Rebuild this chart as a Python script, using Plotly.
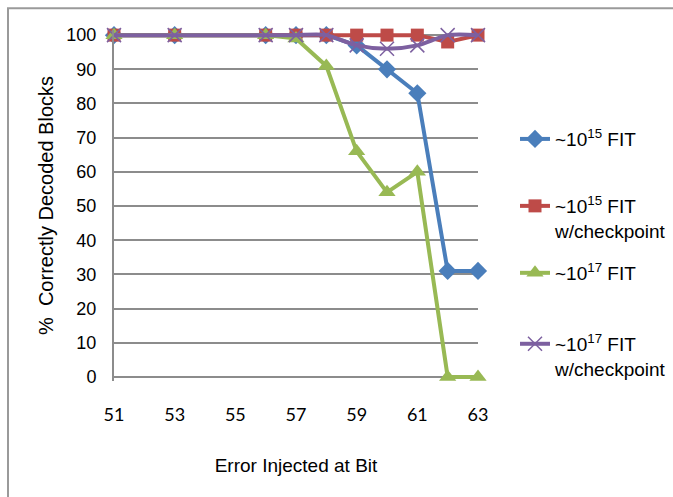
import plotly.graph_objects as go

# ---------------- data ----------------
bits = [51, 53, 56, 57, 58, 59, 60, 61, 62, 63]
fit15 = [100, 100, 100, 100, 100, 97, 90, 83, 31, 31]
fit15_ckpt = [100, 100, 100, 100, 100, 100, 100, 100, 98, 100]
fit17 = [100, 100, 100, 99, 91, 66, 54, 60, 0, 0]
fit17_ckpt = [100, 100, 100, 100, 100, 97, 96, 97, 100, 100]

names = ["~10<sup>15</sup> FIT",
         "~10<sup>15</sup> FIT<br>w/checkpoint",
         "~10<sup>17</sup> FIT",
         "~10<sup>17</sup> FIT<br>w/checkpoint"]

x_ticks = [51, 53, 55, 57, 59, 61, 63]
y_ticks = [0, 10, 20, 30, 40, 50, 60, 70, 80, 90, 100]

# ---------------- layout geometry ----------------
W, H = 673, 497
X_LEFT_PX, X_RIGHT_PX = 114, 478
Y0_PX, Y100_PX = 377, 35
PPU = (Y0_PX - Y100_PX) / 100.0
YMIN, YMAX = -1.2, 101.5
top_px = Y100_PX - (YMAX - 100) * PPU
bot_px = Y0_PX + (0 - YMIN) * PPU
PW = X_RIGHT_PX - X_LEFT_PX
PH = bot_px - top_px


def px_x(px):
    return (px - X_LEFT_PX) / PW


def px_y(py):
    return (bot_px - py) / PH


BLUE = "#4A7EBB"
RED = "#BE4B48"
GREEN = "#98B954"
PURPLE = "#7D60A0"
GRID = "#8C8C8C"

fig = go.Figure()

fig.add_trace(go.Scatter(
    x=bits, y=fit15, name=names[0], mode="lines+markers",
    line=dict(color=BLUE, width=4),
    marker=dict(symbol="diamond", size=14, color=BLUE),
    cliponaxis=False, legend="legend"))
fig.add_trace(go.Scatter(
    x=bits, y=fit15_ckpt, name=names[1], mode="lines+markers",
    line=dict(color=RED, width=4),
    marker=dict(symbol="square", size=13, color=RED),
    cliponaxis=False, legend="legend2"))
fig.add_trace(go.Scatter(
    x=bits, y=fit17, name=names[2], mode="lines+markers",
    line=dict(color=GREEN, width=4),
    marker=dict(symbol="triangle-up", size=15, color=GREEN),
    cliponaxis=False, legend="legend3"))
fig.add_trace(go.Scatter(
    x=bits, y=fit17_ckpt, name=names[3], mode="lines+markers",
    line=dict(color=PURPLE, width=4, shape="spline", smoothing=0.8),
    marker=dict(symbol="x-thin", size=14, color=PURPLE,
                line=dict(color=PURPLE, width=1.5)),
    cliponaxis=False, legend="legend4"))

legend_font = dict(family="Liberation Sans, Arial, sans-serif", size=19, color="#000000")
LEG_X = px_x(515)
leg_centers = [137, 204, 271, 342]
legends = {}
for i, c in enumerate(leg_centers):
    key = "legend" if i == 0 else "legend%d" % (i + 1)
    legends[key] = dict(
        x=LEG_X, xanchor="left", y=px_y(c - 17), yanchor="top",
        font=legend_font, bgcolor="rgba(0,0,0,0)", borderwidth=0,
        valign="top", itemclick=False, itemdoubleclick=False)

fig.update_layout(
    width=W, height=H,
    margin=dict(l=X_LEFT_PX, r=W - X_RIGHT_PX, t=top_px, b=H - bot_px, pad=0,
                autoexpand=False),
    paper_bgcolor="white", plot_bgcolor="white",
    showlegend=True,
    font=dict(family="Liberation Sans, Arial, sans-serif", color="#000000"),
    xaxis=dict(
        range=[51, 63], tickmode="array", tickvals=x_ticks,
        ticktext=[str(v) for v in x_ticks],
        showgrid=False, zeroline=False, showline=False,
        ticks="outside", ticklen=17, tickcolor="rgba(0,0,0,0)",
        tickfont=dict(family="Lato, sans-serif", size=18, color="#000000"),
        title=dict(text="Error Injected at Bit", standoff=35,
                   font=dict(family="Liberation Sans, Arial, sans-serif", size=19, color="#000000")),
    ),
    yaxis=dict(
        range=[YMIN, YMAX], tickmode="array", tickvals=y_ticks,
        ticktext=[str(v) for v in y_ticks],
        showgrid=True, gridcolor=GRID, gridwidth=2,
        zeroline=True, zerolinecolor=GRID, zerolinewidth=2,
        showline=True, linecolor=GRID, linewidth=2,
        ticks="outside", ticklen=12, tickcolor="rgba(0,0,0,0)",
        tickfont=dict(family="Liberation Sans, Arial, sans-serif", size=18, color="#000000"),
        title=dict(text="%\u00a0\u00a0Correctly Decoded Blocks", standoff=7,
                   font=dict(family="Liberation Sans, Arial, sans-serif", size=20, color="#000000")),
    ),
    shapes=[dict(type="rect", xref="paper", yref="paper",
                 x0=px_x(8), x1=px_x(720), y0=px_y(540), y1=px_y(8),
                 line=dict(color="#9A9A9A", width=2), fillcolor="rgba(0,0,0,0)",
                 layer="below")],
    **legends,
)

fig.write_html("out.html")
